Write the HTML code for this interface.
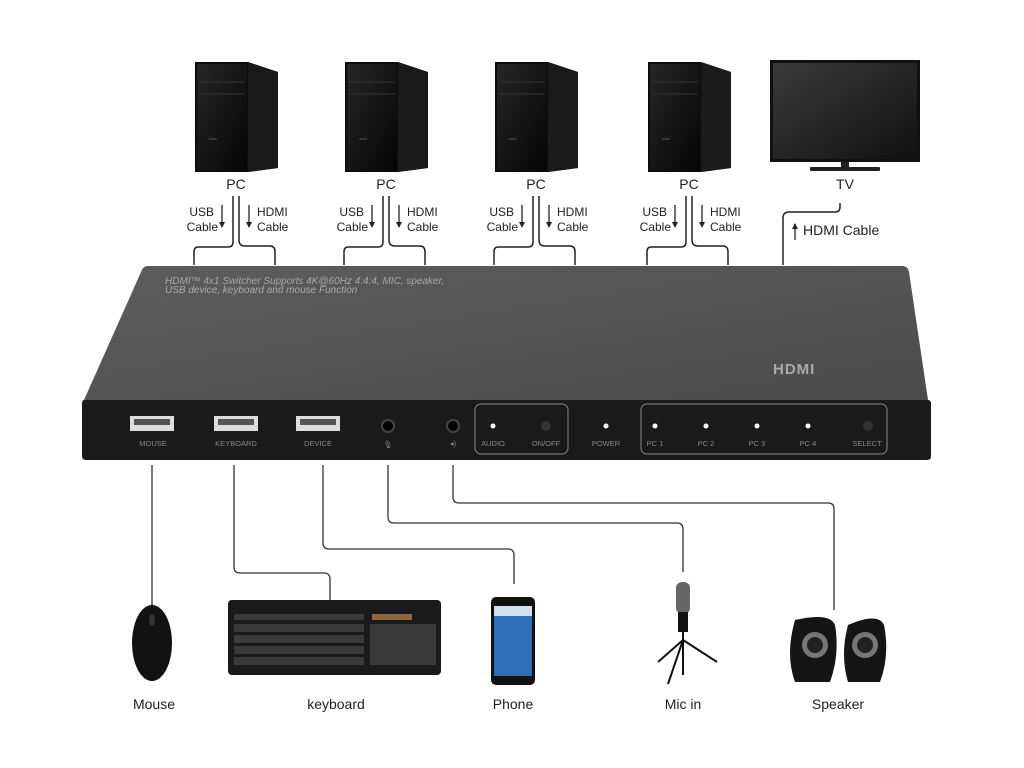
<!DOCTYPE html>
<html><head><meta charset="utf-8"><style>
html,body{margin:0;padding:0;background:#fff;}
svg{display:block;font-family:"Liberation Sans",sans-serif;}
</style></head><body>
<svg width="1024" height="768" viewBox="0 0 1024 768" xmlns="http://www.w3.org/2000/svg">
<defs>
<linearGradient id="top" x1="0" y1="0" x2="1" y2="1"><stop offset="0" stop-color="#5c5c5c"/><stop offset="1" stop-color="#4c4c4c"/></linearGradient>
<linearGradient id="tw" x1="0" y1="0" x2="1" y2="1"><stop offset="0" stop-color="#262626"/><stop offset="1" stop-color="#050505"/></linearGradient>
<linearGradient id="tv" x1="0" y1="0" x2="1" y2="1"><stop offset="0" stop-color="#3a3a3a"/><stop offset="1" stop-color="#111"/></linearGradient>
<g id="pc">
<polygon points="0,2 53,2 83,12 83,108 53,112 0,112" fill="#0c0c0c"/>
<polygon points="53,2 83,12 83,108 53,112" fill="#1a1a1a"/>
<rect x="2" y="4" width="50" height="106" fill="url(#tw)"/>
<line x1="4" y1="22" x2="50" y2="22" stroke="#333"/>
<line x1="4" y1="34" x2="50" y2="34" stroke="#333"/>
<line x1="14" y1="79" x2="22" y2="79" stroke="#555"/>
</g>
</defs>
<rect width="1024" height="768" fill="#fff"/>

<use href="#pc" x="195" y="60"/>
<use href="#pc" x="345" y="60"/>
<use href="#pc" x="495" y="60"/>
<use href="#pc" x="648" y="60"/>
<rect x="770" y="60" width="150" height="102" fill="#111"/>
<rect x="773" y="63" width="144" height="96" fill="url(#tv)"/>
<rect x="841" y="162" width="8" height="5" fill="#222"/>
<rect x="810" y="167" width="70" height="4" rx="1" fill="#222"/>

<g font-size="14" fill="#222" text-anchor="middle">
<text x="236" y="189">PC</text><text x="386" y="189">PC</text><text x="536" y="189">PC</text><text x="689" y="189">PC</text><text x="845" y="189">TV</text>
</g>
<g font-size="12" fill="#222">
<g text-anchor="end"><text x="214" y="216">USB</text><text x="218" y="231">Cable</text>
<text x="364" y="216">USB</text><text x="368" y="231">Cable</text>
<text x="514" y="216">USB</text><text x="518" y="231">Cable</text>
<text x="667" y="216">USB</text><text x="671" y="231">Cable</text></g>
<text x="257" y="216">HDMI</text><text x="257" y="231">Cable</text>
<text x="407" y="216">HDMI</text><text x="407" y="231">Cable</text>
<text x="557" y="216">HDMI</text><text x="557" y="231">Cable</text>
<text x="710" y="216">HDMI</text><text x="710" y="231">Cable</text>
<text x="803" y="235" font-size="14">HDMI Cable</text>
</g>
<g stroke="#222" stroke-width="1.3" fill="#222">
<g id="arr"><line x1="222" y1="205" x2="222" y2="224"/><polygon points="219,222 225,222 222,228" stroke="none"/>
<line x1="249" y1="205" x2="249" y2="224"/><polygon points="246,222 252,222 249,228" stroke="none"/></g>
<use href="#arr" x="150"/><use href="#arr" x="300"/><use href="#arr" x="453"/>
<line x1="795" y1="226" x2="795" y2="240"/><polygon points="792,229 798,229 795,223" stroke="none"/>
</g>
<g stroke="#222" stroke-width="1.5" fill="none">
<g id="cab"><path d="M233,196 V242 Q233,247 228,247 H198 Q194,247 194,252 V265"/>
<path d="M239,196 V240 Q239,246 245,246 H270 Q275,246 275,252 V265"/></g>
<use href="#cab" x="150"/><use href="#cab" x="300"/><use href="#cab" x="453"/>
<path d="M840,203 V207 Q840,212 835,212 H789 Q783,212 783,218 V265"/>
</g>

<path d="M148,266 H902 Q908,266 909,272 L928,400 H84 L141,272 Q143,266 148,266Z" fill="url(#top)"/>
<path d="M84,400 H928 Q931,400 931,404 V456 Q931,460 927,460 H86 Q82,460 82,456 V404 Q82,400 84,400Z" fill="#1a1a1a"/>
<text x="165" y="284" font-size="10" fill="#a8a8a8" font-style="italic">HDMI™ 4x1 Switcher Supports 4K@60Hz 4:4:4, MIC, speaker,</text>
<text x="165" y="293" font-size="10" fill="#a8a8a8" font-style="italic">USB device, keyboard and mouse Function</text>
<text x="773" y="374" font-size="15" font-weight="bold" fill="#aaa" letter-spacing="1">HDMI</text>
<g fill="#ddd"><rect x="130" y="416" width="44" height="15"/><rect x="214" y="416" width="44" height="15"/><rect x="296" y="416" width="44" height="15"/></g>
<g fill="#555"><rect x="134" y="419" width="36" height="6"/><rect x="218" y="419" width="36" height="6"/><rect x="300" y="419" width="36" height="6"/></g>
<circle cx="388" cy="426" r="6" fill="#000" stroke="#444" stroke-width="2"/>
<circle cx="453" cy="426" r="6" fill="#000" stroke="#444" stroke-width="2"/>
<rect x="475" y="404" width="93" height="50" rx="6" fill="none" stroke="#888"/>
<rect x="641" y="404" width="246" height="50" rx="6" fill="none" stroke="#888"/>
<g fill="#fff"><circle cx="493" cy="426" r="2.5"/><circle cx="606" cy="426" r="2.5"/><circle cx="655" cy="426" r="2.5"/><circle cx="706" cy="426" r="2.5"/><circle cx="757" cy="426" r="2.5"/><circle cx="808" cy="426" r="2.5"/></g>
<circle cx="546" cy="426" r="5" fill="#333"/><circle cx="868" cy="426" r="5" fill="#333"/>
<g font-size="7.5" fill="#888" text-anchor="middle">
<text x="153" y="446">MOUSE</text><text x="236" y="446">KEYBOARD</text><text x="318" y="446">DEVICE</text>
<text x="388" y="447">🎙</text><text x="453" y="446">◂)</text>
<text x="493" y="446">AUDIO</text><text x="546" y="446">ON/OFF</text><text x="606" y="446">POWER</text>
<text x="655" y="446">PC 1</text><text x="706" y="446">PC 2</text><text x="757" y="446">PC 3</text><text x="808" y="446">PC 4</text><text x="867" y="446">SELECT</text>
</g>

<g stroke="#333" stroke-width="1.3" fill="none">
<path d="M152,465 V605"/>
<path d="M234,465 V567 Q234,573 240,573 H324 Q330,573 330,579 V600"/>
<path d="M323,465 V543 Q323,549 329,549 H508 Q514,549 514,555 V584"/>
<path d="M388,465 V517 Q388,523 394,523 H677 Q683,523 683,529 V572"/>
<path d="M453,465 V497 Q453,503 459,503 H828 Q834,503 834,509 V610"/>
</g>

<ellipse cx="152" cy="643" rx="20" ry="38" fill="#111"/>
<ellipse cx="152" cy="620" rx="3" ry="6" fill="#333"/>
<rect x="228" y="600" width="213" height="75" rx="4" fill="#1a1a1a"/>
<g fill="#3a3a3a">
<rect x="234" y="614" width="130" height="6"/><rect x="234" y="624" width="130" height="8"/><rect x="234" y="635" width="130" height="8"/><rect x="234" y="646" width="130" height="8"/><rect x="234" y="657" width="130" height="8"/>
<rect x="370" y="624" width="66" height="41"/></g>
<rect x="372" y="614" width="40" height="6" fill="#8a6a3a"/>
<rect x="491" y="597" width="44" height="88" rx="5" fill="#111"/>
<rect x="494" y="606" width="38" height="70" fill="#2f6fb8"/>
<rect x="494" y="606" width="38" height="10" fill="#cfe0f0"/>
<rect x="676" y="582" width="14" height="32" rx="6" fill="#666"/>
<rect x="678" y="612" width="10" height="20" fill="#111"/>
<g stroke="#111" stroke-width="2"><line x1="683" y1="630" x2="683" y2="675"/><line x1="683" y1="640" x2="658" y2="662"/><line x1="683" y1="640" x2="717" y2="662"/><line x1="683" y1="640" x2="668" y2="684"/></g>
<path d="M795,620 Q830,612 835,625 Q840,655 830,682 H795 Q785,655 795,620Z" fill="#151515"/>
<path d="M848,625 Q878,612 884,625 Q890,655 880,682 H848 Q840,655 848,625Z" fill="#151515"/>
<circle cx="815" cy="645" r="13" fill="#777"/><circle cx="865" cy="645" r="13" fill="#777"/>
<circle cx="815" cy="645" r="8" fill="#222"/><circle cx="865" cy="645" r="8" fill="#222"/>

<g font-size="14" fill="#222" text-anchor="middle">
<text x="154" y="709">Mouse</text><text x="336" y="709">keyboard</text><text x="513" y="709">Phone</text><text x="683" y="709">Mic in</text><text x="838" y="709">Speaker</text>
</g>
</svg>
</body></html>
